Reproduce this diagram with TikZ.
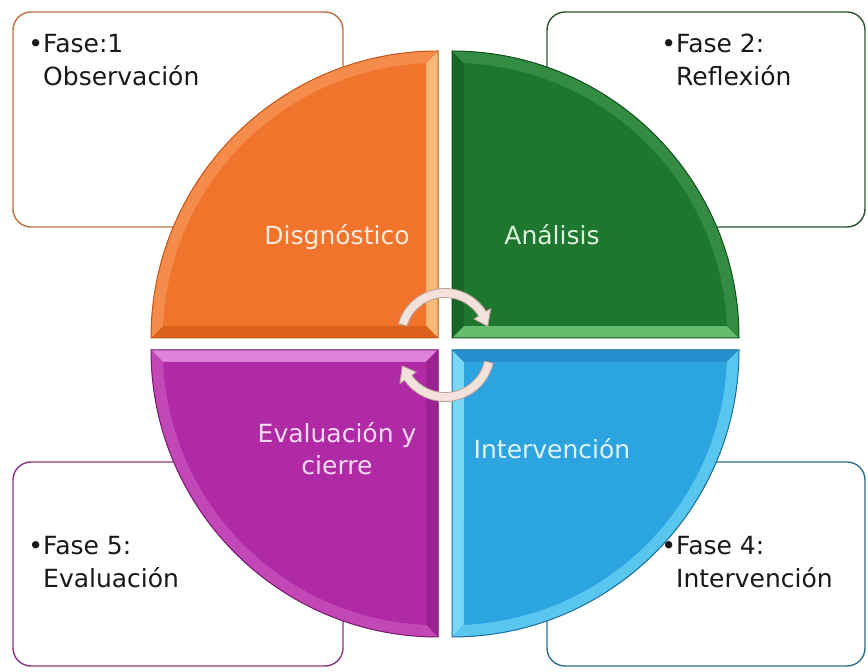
\documentclass[tikz,border=0pt]{standalone}
\usepackage{fontspec}
\setmainfont{DejaVu Sans}
\usetikzlibrary{calc}
% orange
\definecolor{oBase}{RGB}{241,116,44}
\definecolor{oA}{RGB}{248,186,118}
\definecolor{oB}{RGB}{220,98,28}
\definecolor{oArc}{RGB}{246,140,76}
\definecolor{oLine}{RGB}{196,84,24}
\definecolor{oBox}{RGB}{192,112,64}
\definecolor{oTxt}{RGB}{253,236,222}
% green
\definecolor{gBase}{RGB}{30,119,46}
\definecolor{gA}{RGB}{100,190,110}
\definecolor{gB}{RGB}{24,102,38}
\definecolor{gArc}{RGB}{52,140,66}
\definecolor{gLine}{RGB}{18,80,30}
\definecolor{gBox}{RGB}{44,84,50}
\definecolor{gTxt}{RGB}{220,242,222}
% purple
\definecolor{pBase}{RGB}{176,42,166}
\definecolor{pA}{RGB}{224,130,218}
\definecolor{pB}{RGB}{156,34,146}
\definecolor{pArc}{RGB}{194,72,184}
\definecolor{pLine}{RGB}{118,24,108}
\definecolor{pBox}{RGB}{138,54,128}
\definecolor{pTxt}{RGB}{248,220,244}
% blue
\definecolor{bBase}{RGB}{44,164,224}
\definecolor{bA}{RGB}{122,216,244}
\definecolor{bB}{RGB}{38,144,206}
\definecolor{bArc}{RGB}{88,198,238}
\definecolor{bLine}{RGB}{28,108,160}
\definecolor{bBox}{RGB}{44,112,140}
\definecolor{bTxt}{RGB}{226,244,255}
% arrows
\definecolor{arrFill}{RGB}{243,226,220}
\definecolor{arrLine}{RGB}{186,156,150}
\definecolor{txtDark}{RGB}{25,25,25}

\newcommand{\R}{287}
\newcommand{\Dd}{12}
\newcommand{\Ri}{275}
\newcommand{\Da}{2.5}
% #1 shift, #2 rotation, #3 base, #4 band A, #5 band B, #6 arc band, #7 outline
\newcommand{\drawquad}[7]{%
  \begin{scope}[shift={#1}, rotate=#2]
    \fill[#3] (0,0) -- (\R,0) arc[start angle=0, end angle=90, radius=\R] -- cycle;
    \fill[#4] (0,0) -- (\R,0) -- (\Da:\Ri) -- (\Dd,\Dd) -- cycle;
    \fill[#5] (0,0) -- (0,\R) -- (90-\Da:\Ri) -- (\Dd,\Dd) -- cycle;
    \fill[#6] (\R,0) arc[start angle=0, end angle=90, radius=\R] -- (90-\Da:\Ri)
      arc[start angle=90-\Da, end angle=\Da, radius=\Ri] -- cycle;
    \fill[#3] (\Dd,\Dd) -- (\Da:\Ri) arc[start angle=\Da, end angle=90-\Da, radius=\Ri] -- cycle;
    \draw[#7, line width=1pt] (0,0) -- (\R,0) arc[start angle=0, end angle=90, radius=\R] -- cycle;
  \end{scope}}

\begin{document}
\begin{tikzpicture}[x=1pt, y=1pt,
  phasebox/.style={line width=1.4pt, rounded corners=18pt, fill=white},
  boxtxt/.style={anchor=base west, inner sep=0pt, text=txtDark, font=\fontsize{25}{30}\selectfont},
  quadtxt/.style={anchor=base, inner sep=0pt, font=\fontsize{25}{30}\selectfont},
  arr/.style={fill=arrFill, draw=arrLine, line width=0.8pt, line join=round}]
\useasboundingbox (0,0) rectangle (868,672);
\fill[white] (0,0) rectangle (868,672);

% phase boxes
\draw[phasebox, draw=oBox] (13,445) rectangle (343,660);
\draw[phasebox, draw=gBox] (547,445) rectangle (865,660);
\draw[phasebox, draw=pBox] (13,6) rectangle (343,210);
\draw[phasebox, draw=bBox] (547,6) rectangle (865,210);

% quadrants
\drawquad{(438,334)}{90}{oBase}{oA}{oB}{oArc}{oLine}
\drawquad{(452,334)}{0}{gBase}{gA}{gB}{gArc}{gLine}
\drawquad{(438,322)}{180}{pBase}{pA}{pB}{pArc}{pLine}
\drawquad{(452,322)}{270}{bBase}{bA}{bB}{bArc}{bLine}

% circular arrows
\coordinate (ta) at (445,335);
\coordinate (bc) at (445,320);
\filldraw[arr] ($(ta)+(164:48.5)$) arc[start angle=164, end angle=32, radius=48.5]
  -- ($(ta)+(32:54)$) -- ($(ta)+(14:44)$) -- ($(ta)+(32:34)$)
  -- ($(ta)+(32:39.5)$) arc[start angle=32, end angle=164, radius=39.5] -- cycle;
\filldraw[arr] ($(bc)+(-13:49.5)$) arc[start angle=-13, end angle=-145, radius=49.5]
  -- ($(bc)+(-145:55)$) -- ($(bc)+(-162:45)$) -- ($(bc)+(-145:35)$)
  -- ($(bc)+(-145:40.5)$) arc[start angle=-145, end angle=-13, radius=40.5] -- cycle;

% box texts
\node[boxtxt] (t1a) at (43,619) {\llap{•}Fase:1};
\node[boxtxt] (t1b) at (43,586) {Observación};
\node[boxtxt] (t2a) at (676,619) {\llap{•}Fase 2:};
\node[boxtxt] (t2b) at (676,586) {Reflexión};
\node[boxtxt] (t5a) at (43,117) {\llap{•}Fase 5:};
\node[boxtxt] (t5b) at (43,84) {Evaluación};
\node[boxtxt] (t4a) at (676,117) {\llap{•}Fase 4:};
\node[boxtxt] (t4b) at (676,84) {Intervención};

% quadrant labels
\node[quadtxt, text=oTxt] (q1) at (337,427) {Disgnóstico};
\node[quadtxt, text=gTxt] (q2) at (552,427) {Análisis};
\node[quadtxt, text=pTxt] (q5a) at (337,229) {Evaluación y};
\node[quadtxt, text=pTxt] (q5b) at (337,197) {cierre};
\node[quadtxt, text=bTxt] (q4) at (552,213) {Intervención};
\end{tikzpicture}
\end{document}
